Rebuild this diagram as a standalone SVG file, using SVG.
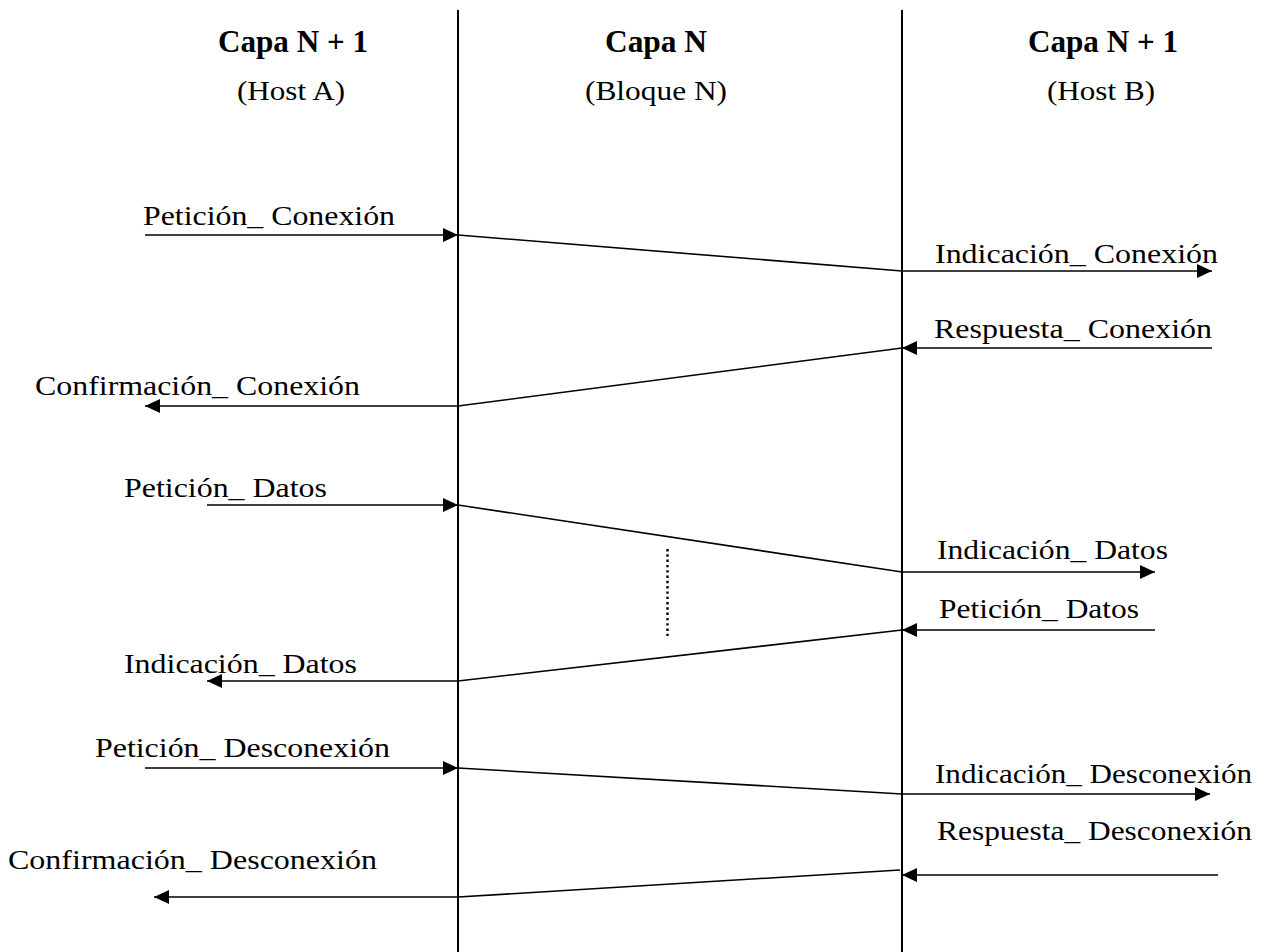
<svg xmlns="http://www.w3.org/2000/svg" width="1271" height="952" viewBox="0 0 1271 952">
  <style>
    text { font-family: "Liberation Serif", "Times New Roman", serif; fill: #000; }
    .hdr { font-size: 32px; font-weight: bold; }
    .sub { font-size: 28px; }
    .lbl { font-size: 28px; }
    .life { stroke: #000; stroke-width: 2; fill: none; }
    .msg { stroke: #000; stroke-width: 1.6; fill: none; }
    .arr { stroke: #000; stroke-width: 1.6; fill: none; marker-end: url(#head); }
    .dots { stroke: #000; stroke-width: 2.4; stroke-dasharray: 2.4 2.9; fill: none; }
  </style>
  <defs>
    <marker id="head" markerUnits="userSpaceOnUse" markerWidth="17" markerHeight="17" viewBox="0 0 17 17" refX="16" refY="8.5" orient="auto">
      <path d="M1,1.5 L16,8.5 L1,15.5 Z" fill="#000"/>
    </marker>
  </defs>
  <rect width="1271" height="952" fill="#fff"/>

  <!-- column headers -->
  <g id="host-a">
    <text class="hdr" x="218" y="52" textLength="150" lengthAdjust="spacingAndGlyphs">Capa N + 1</text>
    <text class="sub" x="237" y="100" textLength="108" lengthAdjust="spacingAndGlyphs">(Host A)</text>
  </g>
  <g id="bloque-n">
    <text class="hdr" x="605" y="52" textLength="102" lengthAdjust="spacingAndGlyphs">Capa N</text>
    <text class="sub" x="585" y="100" textLength="142" lengthAdjust="spacingAndGlyphs">(Bloque N)</text>
  </g>
  <g id="host-b">
    <text class="hdr" x="1028" y="52" textLength="150" lengthAdjust="spacingAndGlyphs">Capa N + 1</text>
    <text class="sub" x="1047" y="100" textLength="108" lengthAdjust="spacingAndGlyphs">(Host B)</text>
  </g>

  <!-- layer boundaries -->
  <g id="boundaries">
    <line class="life" x1="458" y1="10" x2="458" y2="952"/>
    <line class="life" x1="902" y1="10" x2="902" y2="952"/>
    <line class="dots" x1="667.5" y1="549" x2="667.5" y2="636"/>
  </g>

  <!-- primitives and their transit through layer N -->
  <g id="connectors">
    <!-- connection setup -->
    <line class="arr" x1="145" y1="235" x2="458" y2="235"/>
    <line class="msg" x1="458" y1="235" x2="902" y2="271"/>
    <line class="arr" x1="902" y1="271" x2="1212" y2="271"/>

    <line class="arr" x1="1212" y1="348" x2="902" y2="348"/>
    <line class="msg" x1="902" y1="348" x2="458" y2="406"/>
    <line class="arr" x1="458" y1="406" x2="145" y2="406"/>

    <!-- data transfer -->
    <line class="arr" x1="207" y1="505" x2="458" y2="505"/>
    <line class="msg" x1="458" y1="505" x2="902" y2="572"/>
    <line class="arr" x1="902" y1="572" x2="1155" y2="572"/>

    <line class="arr" x1="1155" y1="630" x2="902" y2="630"/>
    <line class="msg" x1="902" y1="630" x2="458" y2="681"/>
    <line class="arr" x1="458" y1="681" x2="207" y2="681"/>

    <!-- release -->
    <line class="arr" x1="145" y1="768" x2="458" y2="768"/>
    <line class="msg" x1="458" y1="768" x2="902" y2="794"/>
    <line class="arr" x1="902" y1="794" x2="1210" y2="794"/>

    <line class="arr" x1="1218" y1="875" x2="902" y2="875"/>
    <line class="msg" x1="900" y1="870" x2="458" y2="897"/>
    <line class="arr" x1="458" y1="897" x2="154" y2="897"/>
  </g>

  <!-- primitive labels -->
  <g id="labels">
    <text class="lbl" x="143" y="225" textLength="252" lengthAdjust="spacingAndGlyphs">Petición_ Conexión</text>
    <text class="lbl" x="935" y="263" textLength="283" lengthAdjust="spacingAndGlyphs">Indicación_ Conexión</text>
    <text class="lbl" x="934" y="338" textLength="278" lengthAdjust="spacingAndGlyphs">Respuesta_ Conexión</text>
    <text class="lbl" x="35" y="395" textLength="325" lengthAdjust="spacingAndGlyphs">Confirmación_ Conexión</text>

    <text class="lbl" x="124" y="497" textLength="203" lengthAdjust="spacingAndGlyphs">Petición_ Datos</text>
    <text class="lbl" x="937" y="559" textLength="231" lengthAdjust="spacingAndGlyphs">Indicación_ Datos</text>
    <text class="lbl" x="939" y="618" textLength="200" lengthAdjust="spacingAndGlyphs">Petición_ Datos</text>
    <text class="lbl" x="124" y="673" textLength="233" lengthAdjust="spacingAndGlyphs">Indicación_ Datos</text>

    <text class="lbl" x="95" y="757" textLength="295" lengthAdjust="spacingAndGlyphs">Petición_ Desconexión</text>
    <text class="lbl" x="935" y="783" textLength="317" lengthAdjust="spacingAndGlyphs">Indicación_ Desconexión</text>
    <text class="lbl" x="937" y="840" textLength="315" lengthAdjust="spacingAndGlyphs">Respuesta_ Desconexión</text>
    <text class="lbl" x="8" y="869" textLength="369" lengthAdjust="spacingAndGlyphs">Confirmación_ Desconexión</text>
  </g>
</svg>
